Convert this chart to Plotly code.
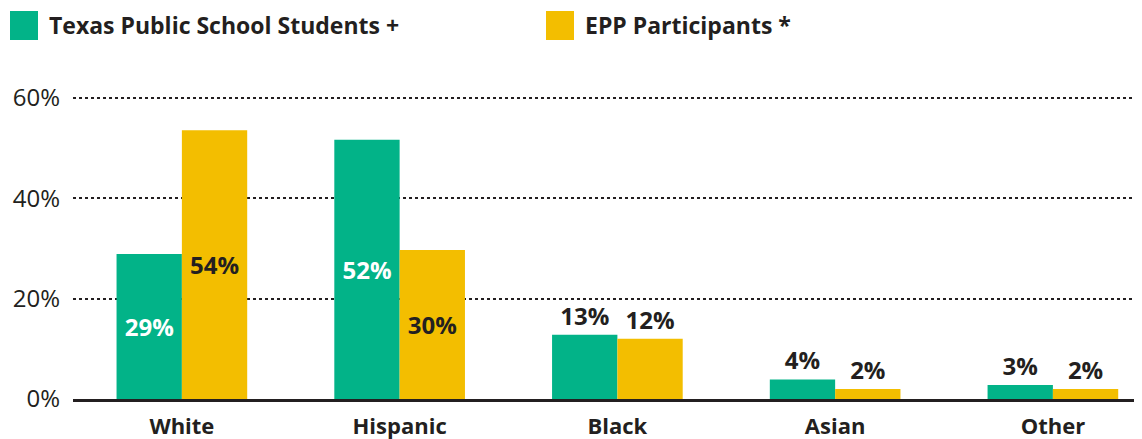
import plotly.graph_objects as go

categories = ["White", "Hispanic", "Black", "Asian", "Other"]
students = [28.9, 51.7, 12.8, 3.9, 2.8]
epp = [53.6, 29.7, 12.0, 2.0, 2.0]
students_labels = ["29%", "52%", "13%", "4%", "3%"]
epp_labels = ["54%", "30%", "12%", "2%", "2%"]
series_names = ["Texas Public School Students +", "EPP Participants *"]
y_ticks = [0, 20, 40, 60]
y_tick_labels = ["0%", "20%", "40%", "60%"]

GREEN = "#02b388"
YELLOW = "#f3be00"
DARK = "#231f20"
FONT = "Open Sans"

# the page body has an 8px default margin; compensate so the figure lands where intended
OFF = 8
W, H = 1142 - OFF, 439 - OFF
ML, MR, MT, MB = 73 - OFF, 2, 88 - OFF, 40
PW, PH = W - ML - MR, H - MT - MB


def px_x(x):
    return (x - OFF - ML) / PW


def px_y(y):
    return (H - MB - (y - OFF)) / PH


positions = ["inside", "inside", "outside", "outside", "outside"]
LBL = 24

fig = go.Figure()
fig.add_trace(go.Bar(
    x=categories, y=students, name=series_names[0], marker_color=GREEN,
    marker_line_width=0, text=students_labels, textposition=positions,
    insidetextanchor="middle", textangle=0,
    insidetextfont=dict(color="white", size=LBL, family=FONT, weight="bold"),
    outsidetextfont=dict(color=DARK, size=LBL, family=FONT, weight="bold"),
    cliponaxis=False, showlegend=False,
))
fig.add_trace(go.Bar(
    x=categories, y=epp, name=series_names[1], marker_color=YELLOW,
    marker_line_width=0, text=epp_labels, textposition=positions,
    insidetextanchor="middle", textangle=0,
    insidetextfont=dict(color=DARK, size=LBL, family=FONT, weight="bold"),
    outsidetextfont=dict(color=DARK, size=LBL, family=FONT, weight="bold"),
    cliponaxis=False, showlegend=False,
))

shapes = []
annotations = []
for x0, name, color in [(10, series_names[0], GREEN), (546, series_names[1], YELLOW)]:
    shapes.append(dict(type="rect", xref="paper", yref="paper",
                       x0=px_x(x0), x1=px_x(x0 + 28), y0=px_y(40), y1=px_y(11),
                       fillcolor=color, line=dict(width=0)))
    annotations.append(dict(xref="paper", yref="paper", x=px_x(x0 + 37), y=px_y(25.5),
                            xanchor="left", yanchor="middle", showarrow=False,
                            text=name, font=dict(family=FONT, size=23, color=DARK, weight="bold")))

fig.update_layout(
    width=W, height=H,
    margin=dict(l=ML, r=MR, t=MT, b=MB, pad=0, autoexpand=False),
    paper_bgcolor="white", plot_bgcolor="white",
    barmode="group", bargap=0.4, bargroupgap=0,
    font=dict(family=FONT, color=DARK),
    shapes=shapes, annotations=annotations,
    xaxis=dict(range=[-0.5, 4.4], showline=True, linecolor=DARK, linewidth=3,
               showgrid=False, ticks="", ticklabelstandoff=6, automargin=False,
               tickfont=dict(family=FONT, size=22, color=DARK, weight="bold")),
    yaxis=dict(range=[0, 62], tickvals=y_ticks, ticktext=y_tick_labels,
               showgrid=True, gridcolor=DARK, griddash="dot", gridwidth=2,
               zeroline=False, showline=False, ticks="", ticklabelstandoff=12,
               automargin=False,
               tickfont=dict(family=FONT, size=24, color=DARK)),
)

fig.write_html("out.html")
